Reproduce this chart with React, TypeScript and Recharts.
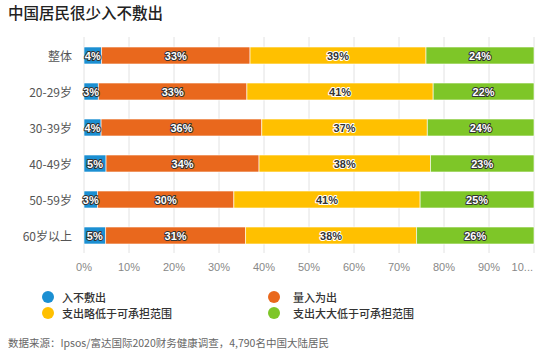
import { BarChart, Bar, XAxis, YAxis, CartesianGrid, LabelList } from "recharts"

const CATEGORIES = ["整体", "20-29岁", "30-39岁", "40-49岁", "50-59岁", "60岁以上"]
const DEFICIT = [3.9, 3.2, 3.8, 4.9, 3.0, 4.8]
const BALANCED = [33.0, 33.0, 35.7, 34.0, 30.3, 31.1]
const SLIGHTLY_LOWER = [39.1, 41.4, 36.8, 38.1, 41.4, 38.0]
const MUCH_LOWER = [24.0, 22.4, 23.7, 23.0, 25.3, 26.1]
const X_TICKS = [0, 10, 20, 30, 40, 50, 60, 70, 80, 90, 100]

const SERIES = [
  { key: "deficit", name: "入不敷出", color: "#1b8fd2", values: DEFICIT },
  { key: "balanced", name: "量入为出", color: "#e9681d", values: BALANCED },
  { key: "slight", name: "支出略低于可承担范围", color: "#ffc000", values: SLIGHTLY_LOWER },
  { key: "much", name: "支出大大低于可承担范围", color: "#7ec628", values: MUCH_LOWER },
]

const data = CATEGORIES.map((c, i) => {
  const row: Record<string, string | number> = { name: c }
  SERIES.forEach((s) => {
    row[s.key] = s.values[i]
  })
  return row
})

const FONT = '"Noto Sans CJK SC", "Noto Sans", sans-serif'

function makeLabel(dark: boolean) {
  return (props: any) => {
    const { x, y, width, height, value } = props
    return (
      <text
        x={x + width / 2}
        y={y + height / 2 + 0.5}
        textAnchor="middle"
        dominantBaseline="central"
        fontSize={11}
        fontWeight={700}
        fontFamily="Arial, 'Liberation Sans', sans-serif"
        fill={dark ? "#333" : "#fff"}
        stroke={dark ? "#fff" : "#333"}
        strokeWidth={2}
        paintOrder="stroke"
        strokeLinejoin="round"
      >
        {Math.round(value)}%
      </text>
    )
  }
}

const YTick = (props: any) => {
  const { y, payload } = props
  return (
    <text x={72} y={y} textAnchor="end" dominantBaseline="central" fontSize={12} fill="#555" fontFamily={FONT}>
      {payload.value}
    </text>
  )
}

const XTick = (props: any) => {
  const { x, payload } = props
  const last = payload.value === 100
  return (
    <text
      x={last ? x - 1 : x}
      y={267}
      textAnchor={last ? "end" : "middle"}
      dominantBaseline="central"
      fontSize={11}
      fill="#888"
      fontFamily="Arial, 'Liberation Sans', sans-serif"
    >
      {last ? "10..." : `${payload.value}%`}
    </text>
  )
}

export default function App() {
  return (
    <div style={{ position: "absolute", left: 0, top: 0, width: 550, height: 354, background: "#fff", fontFamily: FONT }}>
      <div style={{ position: "absolute", left: 8, top: 1, fontSize: 15.5, fontWeight: 500, color: "#222" }}>
        中国居民很少入不敷出
      </div>
      <BarChart
        width={550}
        height={354}
        data={data}
        layout="vertical"
        barSize={17}
        margin={{ top: 37, right: 16, bottom: 71, left: 0 }}
      >
        <CartesianGrid vertical horizontal={false} stroke="#e2e2e2" />
        <XAxis
          type="number"
          domain={[0, 100]}
          ticks={X_TICKS}
          height={30}
          axisLine={false}
          tickLine={false}
          tick={<XTick />}
          interval={0}
        />
        <YAxis type="category" dataKey="name" width={84} axisLine={false} tickLine={false} tick={<YTick />} />
        {SERIES.map((s) => (
          <Bar key={s.key} dataKey={s.key} stackId="a" fill={s.color} stroke="#fff" strokeWidth={0.6} isAnimationActive={false}>
            <LabelList dataKey={s.key} content={makeLabel(s.key === "slight")} />
          </Bar>
        ))}
      </BarChart>
      {SERIES.map((s, i) => (
        <div
          key={s.key}
          style={{
            position: "absolute",
            left: i % 2 === 0 ? 42 : 268,
            top: i < 2 ? 289 : 305,
            display: "flex",
            alignItems: "center",
            fontSize: 11,
            fontWeight: 500,
            color: "#333",
            height: 16,
          }}
        >
          <span style={{ width: 12, height: 12, borderRadius: 6, background: s.color, display: "inline-block", marginRight: i % 2 === 0 ? 8 : 13 }} />
          {s.name}
        </div>
      ))}
      <div style={{ position: "absolute", left: 8, top: 335, fontSize: 10.5, color: "#666" }}>
        数据来源：Ipsos/富达国际2020财务健康调查，4,790名中国大陆居民
      </div>
    </div>
  )
}
